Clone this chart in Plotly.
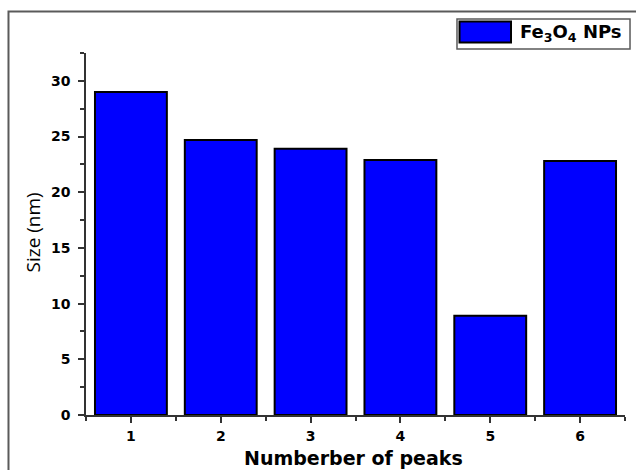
import plotly.graph_objects as go

# Crystallite size per diffraction peak
peaks = [1, 2, 3, 4, 5, 6]
sizes_nm = [29.0, 24.7, 23.9, 22.9, 8.9, 22.8]
y_ticks = [0, 5, 10, 15, 20, 25, 30]
series_name = "Fe<sub>3</sub>O<sub>4</sub> NPs"
x_title = "Numberber of peaks"
y_title = "Size (nm)"

BOLD = "DejaVu Sans"
AXIS = "#333333"
FRAME = "#5a5a5a"

fig = go.Figure()
fig.add_trace(go.Bar(
    x=peaks, y=sizes_nm, width=0.8, name=series_name,
    marker=dict(color="#0000FF", line=dict(color="#000000", width=2)),
    showlegend=False,
))

# Outer frame (right and bottom edges run off the canvas)
fig.add_shape(type="rect", xref="paper", yref="paper",
              x0=-0.1438, x1=1.2, y0=-0.3, y1=1.1146,
              line=dict(color=FRAME, width=2), fillcolor="rgba(0,0,0,0)", layer="below")

# Legend box drawn by hand for a large swatch
fig.add_shape(type="rect", xref="paper", yref="paper",
              x0=0.6883, x1=1.0093, y0=1.011, y1=1.0939,
              line=dict(color=FRAME, width=1.5), fillcolor="white")
fig.add_shape(type="rect", xref="paper", yref="paper",
              x0=0.6930, x1=0.7885, y0=1.0290, y1=1.0870,
              line=dict(color="#000000", width=2), fillcolor="#0000FF")
fig.add_annotation(xref="paper", yref="paper", x=0.8015, y=1.0552,
                   xanchor="left", yanchor="middle", showarrow=False,
                   text=series_name,
                   font=dict(family=BOLD, size=18, color="#000000", weight="bold"))

# Axis titles placed as annotations so the plot area keeps its size
fig.add_annotation(xref="paper", yref="paper", x=0.4963, y=-0.119,
                   xanchor="center", yanchor="middle", showarrow=False,
                   text=x_title,
                   font=dict(family=BOLD, size=19, color="#000000", weight="bold"))
fig.add_annotation(xref="paper", yref="paper", x=-0.0985, y=0.504,
                   xanchor="center", yanchor="middle", showarrow=False,
                   text=y_title, textangle=-90,
                   font=dict(family="Open Sans", size=19, color="#000000"))

fig.update_layout(
    width=636, height=470,
    margin=dict(l=86, r=11, t=53, b=55, autoexpand=False),
    paper_bgcolor="white", plot_bgcolor="white",
    bargap=0.2,
)
fig.update_xaxes(
    range=[0.5, 6.5], tickvals=peaks, automargin=False,
    showline=True, linecolor=AXIS, linewidth=1.5,
    ticks="outside", ticklen=6, tickwidth=1.5, tickcolor=AXIS,
    minor=dict(ticks="outside", tick0=0.5, dtick=1, ticklen=4, tickwidth=1.5, tickcolor=AXIS),
    showgrid=False, zeroline=False,
    ticklabelstandoff=1,
    tickfont=dict(family=BOLD, size=14, color="#000000", weight="bold"),
)
fig.update_yaxes(
    range=[0, 32.5], tickvals=y_ticks, automargin=False,
    showline=True, linecolor=AXIS, linewidth=1.5,
    ticks="outside", ticklen=6, tickwidth=1.5, tickcolor=AXIS,
    minor=dict(ticks="outside", tick0=2.5, dtick=5, ticklen=4, tickwidth=1.5, tickcolor=AXIS),
    showgrid=False, zeroline=False,
    ticklabelstandoff=5,
    tickfont=dict(family=BOLD, size=14, color="#000000", weight="bold"),
)

fig.write_html("out.html")
